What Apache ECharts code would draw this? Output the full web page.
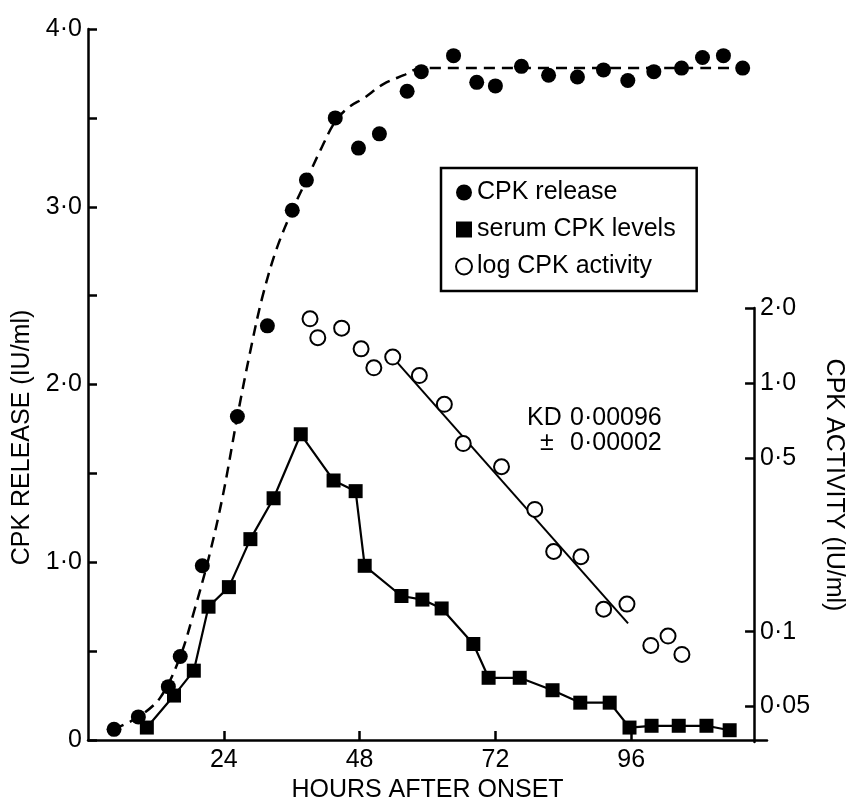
<!DOCTYPE html>
<html><head><meta charset="utf-8">
<script src="https://cdn.jsdelivr.net/npm/echarts@6/dist/echarts.min.js"></script>
<style>html,body{margin:0;padding:0;background:#fff}#c{width:854px;height:808px}</style>
</head><body><div id="c"></div>
<script>
// ---- data (hours after onset) ----
const releaseHours  = [4.6, 8.9, 14.2, 16.3, 20.2, 26.4, 31.7, 36.1, 38.6, 43.7, 47.8, 51.5, 56.4, 58.9, 64.6, 68.7, 72.0, 76.6, 81.4, 86.5, 91.1, 95.4, 100.0, 104.9, 108.6, 112.3, 115.7];
const releaseValues = [0.06, 0.13, 0.30, 0.47, 0.98, 1.82, 2.33, 2.98, 3.15, 3.50, 3.33, 3.41, 3.65, 3.76, 3.85, 3.70, 3.68, 3.79, 3.74, 3.73, 3.77, 3.71, 3.76, 3.78, 3.84, 3.85, 3.78];

const curveHours  = [4.5, 8.9, 12.8, 16.3, 18.8, 21.3, 23.8, 26.4, 28.7, 30.8, 33.3, 36.1, 38.6, 41.1, 43.7, 46.1, 48.7, 52.2, 55.8, 58.9, 115.7];
const curveValues = [0.06, 0.13, 0.24, 0.47, 0.73, 1.02, 1.37, 1.82, 2.19, 2.49, 2.76, 2.98, 3.15, 3.32, 3.48, 3.56, 3.61, 3.69, 3.74, 3.78, 3.78];

const serumHours  = [10.4, 15.2, 18.7, 21.3, 24.9, 28.7, 32.8, 37.6, 43.4, 47.3, 48.9, 55.4, 59.1, 62.5, 68.1, 70.8, 76.3, 82.1, 87.0, 92.2, 95.7, 99.6, 104.4, 109.3, 113.4];
const serumValues = [0.07, 0.25, 0.39, 0.75, 0.86, 1.13, 1.36, 1.72, 1.46, 1.40, 0.98, 0.81, 0.79, 0.74, 0.54, 0.35, 0.35, 0.28, 0.21, 0.21, 0.07, 0.08, 0.08, 0.08, 0.055];

const activityHours  = [40.0, 41.4, 45.7, 49.2, 51.5, 54.9, 59.7, 64.2, 67.6, 74.5, 80.5, 83.9, 88.8, 92.9, 97.1, 101.4, 104.5, 107.0];
const activityValues = [1.81, 1.52, 1.66, 1.37, 1.15, 1.27, 1.07, 0.82, 0.57, 0.46, 0.31, 0.21, 0.20, 0.123, 0.129, 0.088, 0.096, 0.081];

const fitHours  = [55.7, 97.3];
const fitValues = [1.21, 0.108];

const xTicks     = [24, 48, 72, 96];
const rightTicks = [0.05, 0.1, 0.5, 1, 2];
const annotationKD = ['KD', '0·00096', '±', '0·00002'];

const FONT = "'Liberation Sans', Arial, sans-serif";
const zip = (a, b) => a.map((v, i) => [v, b[i]]);
const dot = s => s.replace('.', '·');

const chart = echarts.init(document.getElementById('c'), null, {renderer: 'canvas'});
const axisLine = {show: true, onZero: false, lineStyle: {color: '#000', width: 2.5}};
const tick = {show: true, inside: true, length: 9, lineStyle: {color: '#000', width: 2.5}};
const label = {color: '#000', fontSize: 25, fontFamily: FONT};

chart.setOption({
  backgroundColor: '#fff',
  animation: false,
  textStyle: {fontFamily: FONT, color: '#000'},
  grid: [
    {left: 88, top: 29, width: 679, height: 713},
    {left: 88, top: 308, width: 679, height: 434}
  ],
  xAxis: [
    {gridIndex: 0, type: 'value', min: 0, max: 120, interval: 24,
     axisLine, axisTick: Object.assign({customValues: xTicks}, tick),
     axisLabel: Object.assign({margin: 8, customValues: xTicks,
       formatter: v => (v > 0 && v < 120 ? String(v) : '')}, label),
     splitLine: {show: false},
     name: 'HOURS AFTER ONSET', nameLocation: 'middle', nameGap: 38,
     nameTextStyle: {fontSize: 25, fontFamily: FONT, color: '#000'}},
    {gridIndex: 1, type: 'value', min: 0, max: 120, show: false}
  ],
  yAxis: [
    {gridIndex: 0, type: 'value', min: 0, max: 4, interval: 0.5,
     axisLine, axisTick: tick,
     axisLabel: Object.assign({margin: 6,
       formatter: v => (Math.abs(v - Math.round(v)) < 1e-9 ? (v === 0 ? '0' : dot(v.toFixed(1))) : '')}, label),
     splitLine: {show: false},
     name: 'CPK RELEASE (IU/ml)', nameLocation: 'middle', nameGap: 50, nameRotate: 90,
     nameTextStyle: {fontSize: 25, fontFamily: FONT, color: '#000', padding: [0, 106, 0, 0]}},
    {gridIndex: 1, type: 'log', logBase: 10, min: 0.036, max: 2, position: 'right',
     axisLine, axisTick: Object.assign({customValues: rightTicks}, tick),
     minorTick: {show: false},
     axisLabel: Object.assign({margin: 6, customValues: rightTicks,
       formatter: v => { const n = Number(v.toPrecision(6)); return dot(n >= 1 ? n.toFixed(1) : String(n)); }}, label),
     splitLine: {show: false},
     name: 'CPK ACTIVITY (IU/ml)', nameLocation: 'middle', nameGap: 50, nameRotate: -90,
     nameTextStyle: {fontSize: 25, fontFamily: FONT, color: '#000', padding: [0, 80, 0, 0]}}
  ],
  legend: {
    data: [
      {name: 'CPK release', icon: 'circle'},
      {name: 'serum CPK levels', icon: 'rect'},
      {name: 'log CPK activity', icon: 'emptyCircle'}
    ],
    orient: 'vertical', left: 441, top: 168,
    padding: [12, 21, 12, 14], itemGap: 12, itemWidth: 16, itemHeight: 16,
    borderColor: '#000', borderWidth: 2.5, selectedMode: false,
    textStyle: {fontSize: 25, fontFamily: FONT, color: '#000'}
  },
  graphic: [
    {type: 'text', left: 527, top: 406, style: {text: annotationKD[0], fontSize: 25, fontFamily: FONT, fill: '#000'}},
    {type: 'text', left: 570, top: 406, style: {text: annotationKD[1], fontSize: 25, fontFamily: FONT, fill: '#000'}},
    {type: 'text', left: 540, top: 431, style: {text: annotationKD[2], fontSize: 25, fontFamily: FONT, fill: '#000'}},
    {type: 'text', left: 570, top: 431, style: {text: annotationKD[3], fontSize: 25, fontFamily: FONT, fill: '#000'}}
  ],
  series: [
    {name: 'release curve', type: 'line', xAxisIndex: 0, yAxisIndex: 0,
     data: zip(curveHours, curveValues), smooth: 0.35, showSymbol: false, symbol: 'none',
     lineStyle: {color: '#000', width: 2.5, type: [11, 7]}, z: 1, silent: true},
    {name: 'serum CPK levels', type: 'line', xAxisIndex: 0, yAxisIndex: 0,
     data: zip(serumHours, serumValues), symbol: 'rect', symbolSize: 14,
     itemStyle: {color: '#000'}, lineStyle: {color: '#000', width: 2.2}, z: 3},
    {name: 'CPK release', type: 'scatter', xAxisIndex: 0, yAxisIndex: 0,
     data: zip(releaseHours, releaseValues), symbol: 'circle', symbolSize: 15,
     itemStyle: {color: '#000', opacity: 1}, z: 4},
    {name: 'fit', type: 'line', xAxisIndex: 1, yAxisIndex: 1,
     data: zip(fitHours, fitValues), symbol: 'none',
     lineStyle: {color: '#000', width: 2}, z: 2, silent: true},
    {name: 'log CPK activity', type: 'scatter', xAxisIndex: 1, yAxisIndex: 1,
     data: zip(activityHours, activityValues), symbol: 'emptyCircle', symbolSize: 15,
     itemStyle: {color: '#000', borderColor: '#000', borderWidth: 2.2, opacity: 1}, z: 4}
  ]
});
</script>
</body></html>
